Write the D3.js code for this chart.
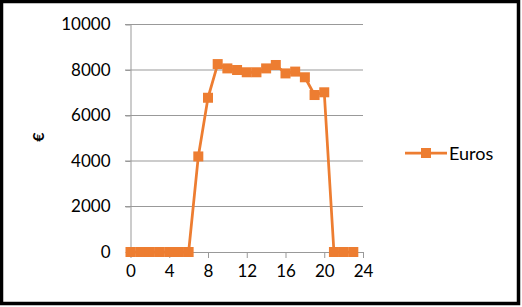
<!DOCTYPE html>
<html>
<head>
<meta charset="utf-8">
<script src="https://cdn.jsdelivr.net/npm/d3@7"></script>
<style>
  body { margin: 0; background: #fff; }
  svg { display: block; }
  .axis text { font-family: Lato, sans-serif; font-size: 17px; fill: #000; }
  .axis path, .axis line { stroke: #999; }
  .grid line { stroke: #999; }
</style>
</head>
<body>
<svg></svg>
<script>
var hours = [0, 1, 2, 3, 4, 5, 6, 7, 8, 9, 10, 11, 12, 13, 14, 15, 16, 17, 18, 19, 20, 21, 22, 23];
var euros = [0, 0, 0, 0, 0, 0, 0, 4200, 6780, 8260, 8070, 8000, 7900, 7900, 8070, 8220, 7850, 7930, 7680, 6900, 7020, 0, 0, 0];
var xTicks = [0, 4, 8, 12, 16, 20, 24];
var yTicks = [0, 2000, 4000, 6000, 8000, 10000];
var seriesName = 'Euros';
var yLabel = '€';

var width = 522;
var height = 307;
var svg = d3.select('svg')
  .attr('width', width)
  .attr('height', height);

// outer frame
svg.append('rect')
  .attr('x', 1.5)
  .attr('y', 1.5)
  .attr('width', 517)
  .attr('height', 302)
  .attr('fill', '#fff')
  .attr('stroke', '#000')
  .attr('stroke-width', 3.5);

var scaleX = d3.scaleLinear()
  .domain([0, 24])
  .range([130.5, 363]);
var scaleY = d3.scaleLinear()
  .domain([0, 10000])
  .range([252, 24.5]);

// gridlines
svg.append('g')
  .attr('class', 'grid')
  .selectAll('line')
  .data(yTicks.slice(1))
  .enter().append('line')
  .attr('x1', 125)
  .attr('x2', scaleX(24))
  .attr('y1', function(d) { return scaleY(d); })
  .attr('y2', function(d) { return scaleY(d); });

var yAxis = d3.axisLeft(scaleY)
  .tickValues(yTicks)
  .tickFormat(d3.format('d'))
  .tickSize(5)
  .tickPadding(15)
  .tickSizeOuter(0);

svg.append('g')
  .attr('class', 'axis y-axis')
  .attr('transform', 'translate(' + scaleX(0) + ',0)')
  .call(yAxis);

var xAxis = d3.axisBottom(scaleX)
  .tickValues(xTicks)
  .tickFormat(d3.format('d'))
  .tickSize(6)
  .tickPadding(7)
  .tickSizeOuter(0);

svg.append('g')
  .attr('class', 'axis x-axis')
  .attr('transform', 'translate(0,' + scaleY(0) + ')')
  .call(xAxis);

svg.append('text')
  .attr('transform', 'translate(44,137) rotate(-90)')
  .attr('text-anchor', 'middle')
  .style('font-family', 'Lato, sans-serif')
  .style('font-size', '16px')
  .style('font-weight', 'bold')
  .text(yLabel);

var color = '#ED7D31';
var points = hours.map(function(h, i) { return { x: h, y: euros[i] }; });

var line = d3.line()
  .x(function(d) { return scaleX(d.x); })
  .y(function(d) { return scaleY(d.y); });

svg.append('path')
  .datum(points)
  .attr('fill', 'none')
  .attr('stroke', color)
  .attr('stroke-width', 2.75)
  .attr('stroke-linejoin', 'round')
  .attr('d', line);

var size = 10;
svg.selectAll('.marker')
  .data(points)
  .enter().append('rect')
  .attr('class', 'marker')
  .attr('x', function(d) { return scaleX(d.x) - size / 2; })
  .attr('y', function(d) { return scaleY(d.y) - size / 2; })
  .attr('width', size)
  .attr('height', size)
  .attr('fill', color);

// legend
var legend = svg.append('g')
  .attr('transform', 'translate(405,153)');
legend.append('line')
  .attr('x1', 0)
  .attr('x2', 42)
  .attr('stroke', color)
  .attr('stroke-width', 2.75);
legend.append('rect')
  .attr('x', 21 - size / 2)
  .attr('y', -size / 2)
  .attr('width', size)
  .attr('height', size)
  .attr('fill', color);
legend.append('text')
  .attr('x', 44)
  .attr('y', 6.5)
  .style('font-family', 'Lato, sans-serif')
  .style('font-size', '18px')
  .text(seriesName);
</script>
</body>
</html>
